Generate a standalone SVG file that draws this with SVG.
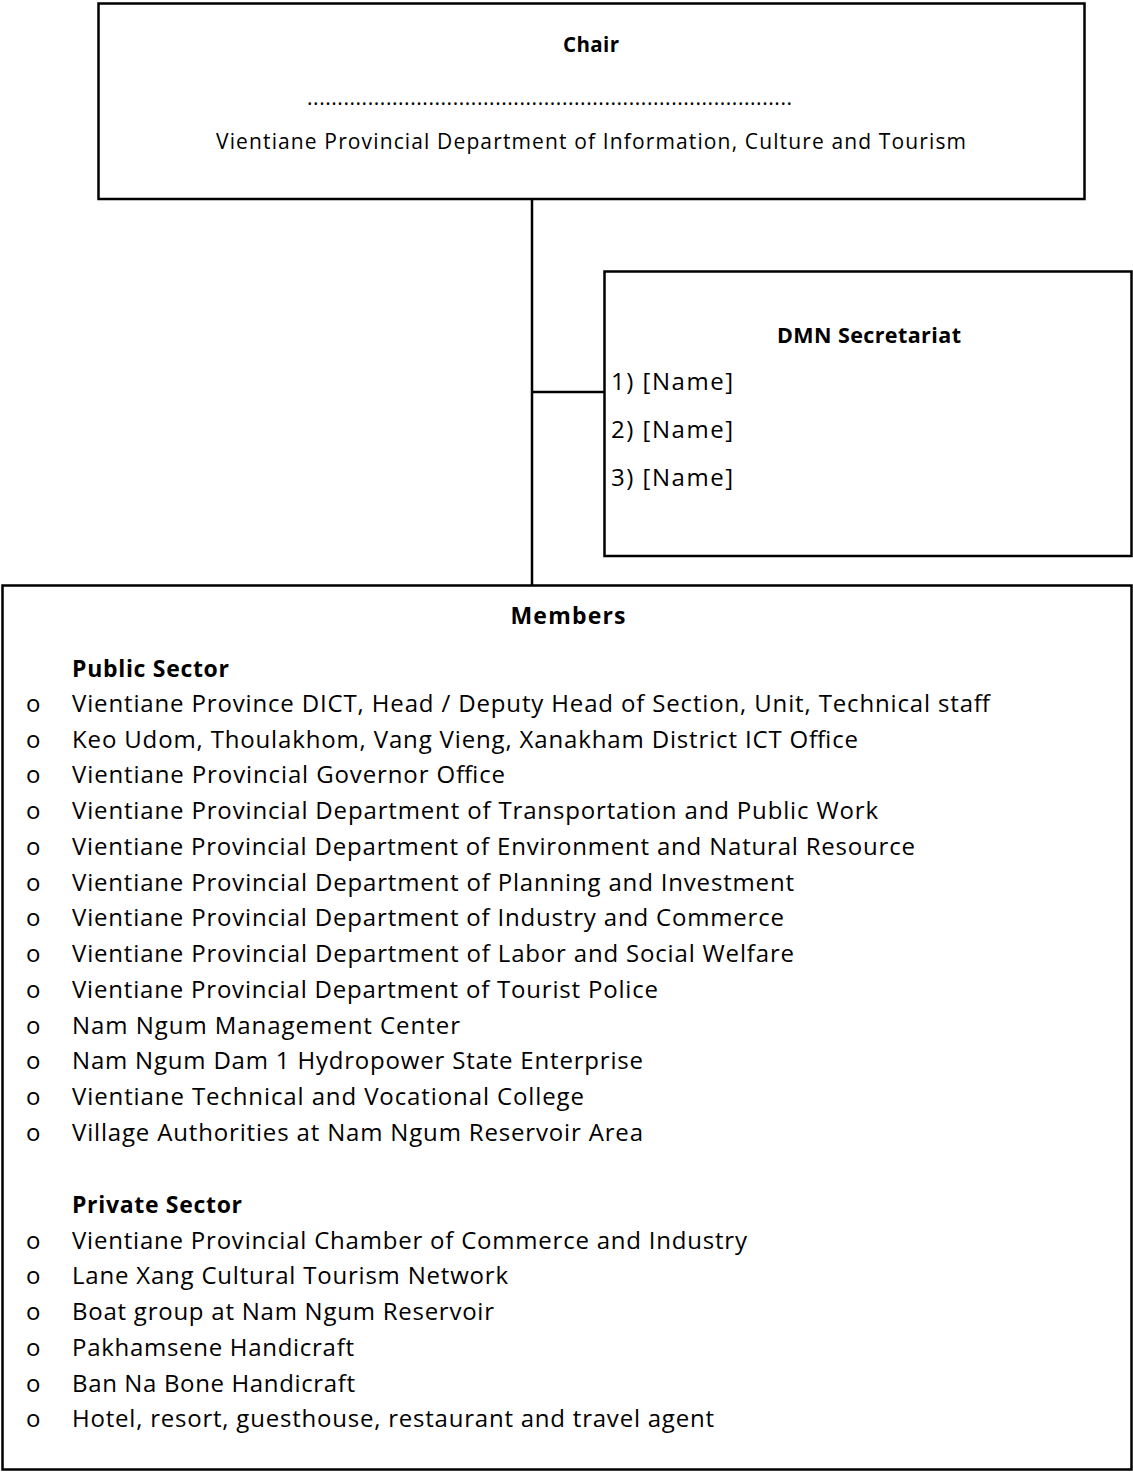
<svg xmlns="http://www.w3.org/2000/svg" width="1133" height="1473" viewBox="0 0 1133 1473">
<style>
.box{fill:#fff;stroke:#000;stroke-width:2.5}
.ln{stroke:#000;stroke-width:2.5;fill:none}
text{font-family:"Open Sans","Liberation Sans",Arial,sans-serif;fill:#000}
.t{font-size:24px}
.c{font-size:21px}
.n{font-size:24px}
.b{font-size:23px;font-weight:bold}
.bl{font-size:24px;font-family:"Liberation Sans",Arial,sans-serif}
</style>
<rect width="1133" height="1473" fill="#fff"/>
<g id="connectors">
<line class="ln" x1="532" y1="199" x2="532" y2="585"/>
<line class="ln" x1="532" y1="392" x2="604" y2="392"/>
</g>
<g id="chair">
<rect class="box" x="98.5" y="3.5" width="986" height="195.5"/>
<text class="b" style="font-size:20.5px" x="591" y="52" text-anchor="middle" textLength="56">Chair</text>
<text class="c" x="307" y="105" textLength="485">................................................................................</text>
<text class="c" x="591" y="149" text-anchor="middle" textLength="750">Vientiane Provincial Department of Information, Culture and Tourism</text>
</g>
<g id="secretariat">
<rect class="box" x="604.5" y="271.5" width="527" height="284.5"/>
<text class="b" style="font-size:21.5px" x="869" y="343" text-anchor="middle" textLength="184">DMN Secretariat</text>
<text class="n" x="611" y="390" textLength="122">1) [Name]</text>
<text class="n" x="611" y="438" textLength="122">2) [Name]</text>
<text class="n" x="611" y="486" textLength="122">3) [Name]</text>
</g>
<g id="members">
<rect class="box" x="2.5" y="585.5" width="1129" height="884"/>
<text class="b" x="568" y="624" text-anchor="middle" textLength="115">Members</text>
<text class="b" x="72" y="677" textLength="157">Public Sector</text>
<g class="bl">
<text x="26" y="712">o</text><text x="26" y="748">o</text><text x="26" y="783">o</text><text x="26" y="819">o</text><text x="26" y="855">o</text><text x="26" y="891">o</text><text x="26" y="926">o</text><text x="26" y="962">o</text><text x="26" y="998">o</text><text x="26" y="1034">o</text><text x="26" y="1069">o</text><text x="26" y="1105">o</text><text x="26" y="1141">o</text>
<text x="26" y="1249">o</text><text x="26" y="1284">o</text><text x="26" y="1320">o</text><text x="26" y="1356">o</text><text x="26" y="1392">o</text><text x="26" y="1427">o</text>
</g>
<text class="t" x="72" y="712" textLength="918">Vientiane Province DICT, Head / Deputy Head of Section, Unit, Technical staff</text>
<text class="t" x="72" y="748" textLength="786">Keo Udom, Thoulakhom, Vang Vieng, Xanakham District ICT Office</text>
<text class="t" x="72" y="783" textLength="433">Vientiane Provincial Governor Office</text>
<text class="t" x="72" y="819" textLength="806">Vientiane Provincial Department of Transportation and Public Work</text>
<text class="t" x="72" y="855" textLength="843">Vientiane Provincial Department of Environment and Natural Resource</text>
<text class="t" x="72" y="891" textLength="722">Vientiane Provincial Department of Planning and Investment</text>
<text class="t" x="72" y="926" textLength="712">Vientiane Provincial Department of Industry and Commerce</text>
<text class="t" x="72" y="962" textLength="722">Vientiane Provincial Department of Labor and Social Welfare</text>
<text class="t" x="72" y="998" textLength="586">Vientiane Provincial Department of Tourist Police</text>
<text class="t" x="72" y="1034" textLength="388">Nam Ngum Management Center</text>
<text class="t" x="72" y="1069" textLength="571">Nam Ngum Dam 1 Hydropower State Enterprise</text>
<text class="t" x="72" y="1105" textLength="512">Vientiane Technical and Vocational College</text>
<text class="t" x="72" y="1141" textLength="571">Village Authorities at Nam Ngum Reservoir Area</text>
<text class="b" x="72" y="1213" textLength="170">Private Sector</text>
<text class="t" x="72" y="1249" textLength="675">Vientiane Provincial Chamber of Commerce and Industry</text>
<text class="t" x="72" y="1284" textLength="436">Lane Xang Cultural Tourism Network</text>
<text class="t" x="72" y="1320" textLength="422">Boat group at Nam Ngum Reservoir</text>
<text class="t" x="72" y="1356" textLength="282">Pakhamsene Handicraft</text>
<text class="t" x="72" y="1392" textLength="283">Ban Na Bone Handicraft</text>
<text class="t" x="72" y="1427" textLength="642">Hotel, resort, guesthouse, restaurant and travel agent</text>
</g>
</svg>
